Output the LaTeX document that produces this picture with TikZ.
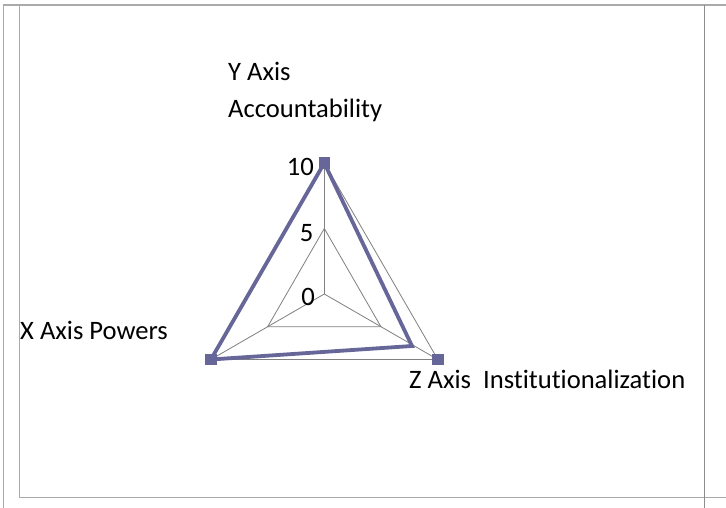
\documentclass[tikz,border=0pt]{standalone}
\usepackage{fontspec}
\setmainfont[Ligatures=NoCommon]{Carlito}
\definecolor{series}{RGB}{102,102,153}
\definecolor{gridc}{RGB}{128,128,128}
\definecolor{framec}{RGB}{170,170,170}
\definecolor{framed}{RGB}{140,140,140}
\begin{document}
\begin{tikzpicture}[x=1pt,y=-1pt,
  lbl/.style={inner sep=0pt,font=\fontsize{26.6}{30}\selectfont},
  gridline/.style={draw=gridc,line width=0.8pt},
  serieslines/.style={draw=series,line width=3.8pt,line join=miter},
  marker/.style={fill=series,draw=none,minimum size=11.5pt,inner sep=0pt,rectangle}]
\useasboundingbox (0,0) rectangle (726,508);
\fill[white] (0,0) rectangle (726,508);
% frame
\draw[framec,line width=1.4pt] (3.5,508) -- (3.5,5) -- (19.5,5);
\draw[framec,line width=1.4pt] (19.5,4) -- (19.5,497.5) -- (726,497.5);
\draw[framec,line width=2pt] (19.5,5) -- (726,5);
\draw[framed,line width=1.4pt] (704.3,5) -- (704.3,508);
% chart coordinates
\coordinate (c) at (324.3,294);
\coordinate (t10) at (324.3,163);
\coordinate (l10) at (210.9,359.5);
\coordinate (r10) at (437.8,359.5);
\coordinate (t5) at (324.3,228.5);
\coordinate (l5) at (267.6,326.8);
\coordinate (r5) at (381.0,326.8);
\coordinate (zd) at (412,346);
% grid
\draw[gridline] (t10) -- (r10) -- (l10) -- cycle;
\draw[gridline] (t5) -- (r5) -- (l5) -- cycle;
\draw[gridline] (c) -- (t10);
\draw[gridline] (c) -- (l10);
\draw[gridline] (c) -- (r10);
% series
\draw[serieslines] (t10) -- (zd) -- (l10) -- cycle;
\node[marker] (mt) at (t10) {};
\node[marker] (ml) at (l10) {};
\node[marker] (mr) at (r10) {};
% tick labels
\node[lbl,anchor=base east] (v10) at (314,176) {10};
\node[lbl,anchor=base east] (v5) at (313.5,241) {5};
\node[lbl,anchor=base east] (v0) at (315,305) {0};
% axis labels
\node[lbl,anchor=base west] (ya) at (228,81) {Y Axis};
\node[lbl,anchor=base west] (yb) at (228,118) {Accountability};
\node[lbl,anchor=base west] (xa) at (20,339) {X Axis Powers};
\node[lbl,anchor=base west] (za) at (409,388) {Z Axis\ \ Institutionalization};
\end{tikzpicture}
\end{document}
